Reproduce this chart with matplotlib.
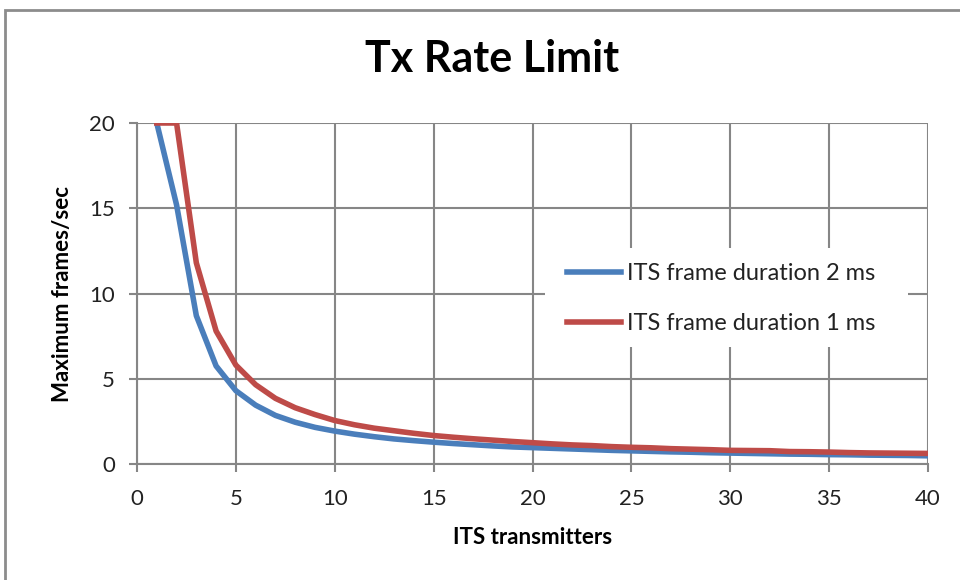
import matplotlib
matplotlib.use("Agg")
import matplotlib.pyplot as plt
from matplotlib.patches import Rectangle

plt.rcParams['font.family'] = ['Lato', 'DejaVu Sans']

# number of ITS transmitters
transmitters = list(range(1, 41))
# max frames/sec
rate_2ms = [20, 15.2, 8.7, 5.75, 4.3, 3.45, 2.85, 2.45, 2.15, 1.93,
            1.75, 1.6, 1.47, 1.37, 1.28, 1.2, 1.13, 1.06, 1.0, 0.96,
            0.92, 0.88, 0.84, 0.8, 0.77, 0.74, 0.71, 0.69, 0.66, 0.64,
            0.62, 0.6, 0.58, 0.57, 0.55, 0.54, 0.52, 0.51, 0.5, 0.48]
rate_1ms = [20, 20, 11.8, 7.8, 5.8, 4.65, 3.85, 3.3, 2.9, 2.55,
            2.3, 2.1, 1.95, 1.8, 1.67, 1.57, 1.48, 1.4, 1.32, 1.25,
            1.18, 1.12, 1.08, 1.02, 0.98, 0.95, 0.9, 0.87, 0.84, 0.8,
            0.79, 0.78, 0.73, 0.72, 0.7, 0.67, 0.65, 0.64, 0.63, 0.62]
labels = ['ITS frame duration 2 ms', 'ITS frame duration 1 ms']

fig = plt.figure(figsize=(9.6, 5.8), dpi=100)
# outer chart border
fig.patches.append(Rectangle((5/960, -0.1), 1.2, 1 - 10/580 + 0.1, transform=fig.transFigure,
                             fill=False, edgecolor='#8c8c8c', lw=2))
ax = fig.add_axes([137/960, 1 - 464/580, (928 - 137)/960, (464 - 123)/580])

ax.plot(transmitters, rate_2ms, color='#4a7ebb', lw=4, label=labels[0], solid_joinstyle='round')
ax.plot(transmitters, rate_1ms, color='#be4b48', lw=4, label=labels[1], solid_joinstyle='round')

ax.set_xlim(0, 40)
ax.set_ylim(0, 20)
ax.set_xticks(range(0, 41, 5))
ax.set_yticks(range(0, 21, 5))
ax.grid(True, color='#868686', lw=1.5)
ax.set_axisbelow(True)
for s in ['top', 'right']:
    ax.spines[s].set_visible(False)
for s in ['left', 'bottom']:
    ax.spines[s].set_color('#868686')
    ax.spines[s].set_linewidth(1.5)
ax.tick_params(axis='both', labelsize=16, color='#868686', width=1.5, length=6, labelcolor='#222222')
ax.tick_params(axis='x', pad=12)
ax.tick_params(axis='y', pad=10)

ax.set_xlabel('ITS transmitters', fontsize=16, fontweight='bold')
ax.set_ylabel('Maximum frames/sec', fontsize=16, fontweight='bold')
ax.xaxis.set_label_coords(0.5, (464 - 538) / 341)
ax.xaxis.label.set_va('center')
ax.yaxis.set_label_coords((63 - 137) / 791, 0.5)
ax.yaxis.label.set_va('center')
fig.text(0.513, 1 - 72/580, 'Tx Rate Limit', fontsize=31, fontweight='bold', ha='center', va='baseline')

# white box behind the legend hides the grid
ax.add_patch(Rectangle((0.516, 0.343), 0.459, 0.290, transform=ax.transAxes,
                       facecolor='white', edgecolor='none', zorder=1))
leg = ax.legend(loc='upper left', bbox_to_anchor=(0.5436, 0.588), fontsize=17, frameon=False,
                handlelength=2.3, handletextpad=0.25, labelspacing=1.2,
                borderpad=0, borderaxespad=0)
for t in leg.get_texts():
    t.set_color('#222222')

fig.savefig('out.png', dpi=100)
